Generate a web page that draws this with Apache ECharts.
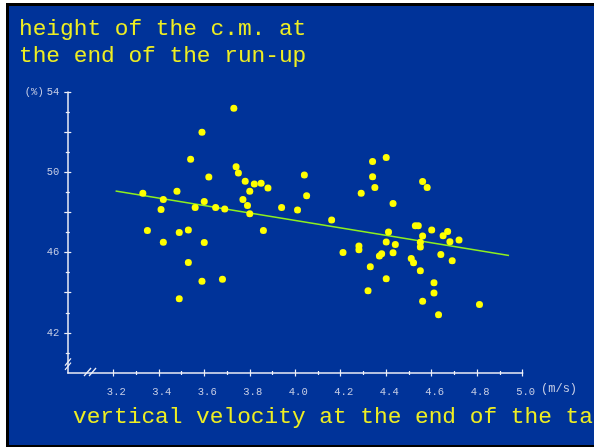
<!DOCTYPE html>
<html>
<head>
<meta charset="utf-8">
<script src="https://cdn.jsdelivr.net/npm/echarts@6/dist/echarts.min.js"></script>
<style>
  html, body { margin: 0; padding: 0; background: #ffffff; }
  #frame {
    position: absolute; left: 6px; top: 3px; width: 585px; height: 439px;
    background: #003399;
    border-left: 3px solid #000; border-top: 3px solid #000; border-bottom: 2px solid #000;
  }
  #chart { position: absolute; left: 0; top: 0; width: 594px; height: 447px; }
</style>
</head>
<body>
<div id="frame"></div>
<div id="chart"></div>
<script>
// vertical take-off velocity (m/s) for each jump
const velocity = [
  3.73, 3.59, 3.54, 3.74, 3.75, 3.62, 3.78, 3.82, 3.85, 3.88,
  3.80, 3.48, 3.33, 3.42, 3.77, 3.79, 3.60, 3.56, 3.65, 3.69,
  3.41, 3.94, 4.01, 3.80, 3.35, 3.49, 3.53, 3.42, 3.60, 3.86,
  3.53, 3.59, 3.68, 3.49, 4.04, 4.05, 4.16, 4.34, 4.40, 4.34,
  4.35, 4.29, 4.43, 4.56, 4.58, 4.528, 4.541, 4.60, 4.67, 4.65,
  4.41, 4.56, 4.40, 4.44, 4.55, 4.55, 4.68, 4.72, 4.28, 4.28,
  4.21, 4.38, 4.37, 4.43, 4.64, 4.69, 4.51, 4.52, 4.33, 4.55,
  4.40, 4.61, 4.32, 4.61, 4.56, 4.81, 4.63
];
// height of the centre of mass (% of body height) for each jump
const heightPct = [
  53.19, 51.99, 50.65, 50.27, 49.97, 49.77, 49.55, 49.42, 49.45, 49.22,
  49.05, 49.05, 48.95, 48.65, 48.65, 48.35, 48.55, 48.25, 48.25, 48.17,
  48.15, 48.25, 48.12, 47.94, 47.10, 47.00, 47.12, 46.52, 46.50, 47.10,
  45.50, 44.57, 44.67, 43.70, 49.87, 48.83, 47.62, 50.54, 50.74, 49.78,
  49.24, 48.95, 48.44, 49.54, 49.24, 47.34, 47.34, 47.13, 47.05, 46.84,
  47.02, 46.82, 46.53, 46.40, 46.52, 46.28, 46.54, 46.63, 46.33, 46.14,
  46.00, 45.94, 45.83, 45.99, 45.91, 45.59, 45.71, 45.49, 45.29, 45.09,
  44.69, 44.50, 44.10, 43.98, 43.58, 43.41, 42.90
];
// regression line end points
const fitVelocity = [3.21, 4.94];
const fitHeight = [49.07, 45.85];

// axis ticks and labels
const xMajorTicks = [3.2, 3.4, 3.6, 3.8, 4.0, 4.2, 4.4, 4.6, 4.8, 5.0];
const xMinorTicks = [3.3, 3.5, 3.7, 3.9, 4.1, 4.3, 4.5, 4.7, 4.9];
const yMajorTicks = [42, 44, 46, 48, 50, 52, 54];
const yMinorTicks = [41, 43, 45, 47, 49, 51, 53];
const yLabelValues = [42, 46, 50, 54];

const mono = 'Liberation Mono';
const axisWhite = '#eef0f8';
const labelGrey = '#c4cce4';
const titleYellow = '#eeee22';

function tickLayer(base, ticks, len, inside, extra) {
  return Object.assign({
    type: 'value',
    min: base.min, max: base.max,
    position: base.position,
    axisLine: { show: false },
    splitLine: { show: false },
    axisLabel: { show: false },
    axisTick: { show: true, inside: inside, length: len, customValues: ticks,
                lineStyle: { color: axisWhite, width: 1.2 } }
  }, extra || {});
}

const xBase = { min: 3.0, max: 5.0, position: 'bottom' };
const yBase = { min: 40, max: 54, position: 'left' };

const chart = echarts.init(document.getElementById('chart'), null, { renderer: 'canvas' });

chart.setOption({
  animation: false,
  backgroundColor: 'transparent',
  title: [
    {
      text: 'height of the c.m. at\nthe end of the run-up',
      left: 19, top: 15, padding: 0,
      textStyle: { fontFamily: mono, fontSize: 22.8, lineHeight: 27, fontWeight: 'normal', color: titleYellow }
    },
    {
      text: 'vertical velocity at the end of the take-off',
      left: 73, top: 403, padding: 0,
      textStyle: { fontFamily: mono, fontSize: 22.8, lineHeight: 27, fontWeight: 'normal', color: titleYellow }
    }
  ],
  grid: { left: 67.8, right: 71.3, top: 92, bottom: 74, containLabel: false },
  xAxis: [
    tickLayer(xBase, xMajorTicks, 3.5, false, {
      axisLine: { show: true, lineStyle: { color: axisWhite, width: 1.5 } },
      axisLabel: {
        show: true, customValues: xMajorTicks, margin: 14, padding: [0, 0, 0, 6],
        formatter: v => v.toFixed(1),
        fontFamily: mono, fontSize: 10.5, color: labelGrey
      },
      name: '(m/s)',
      nameLocation: 'end',
      nameGap: 17,
      nameTextStyle: { fontFamily: mono, fontSize: 12, color: labelGrey,
                       verticalAlign: 'top', padding: [10, 0, 0, 0] }
    }),
    tickLayer(xBase, xMajorTicks, 3.5, true),
    tickLayer(xBase, xMinorTicks, 2, false),
    tickLayer(xBase, xMinorTicks, 2, true)
  ],
  yAxis: [
    tickLayer(yBase, yMajorTicks, 3.5, false, {
      axisLine: { show: true, lineStyle: { color: axisWhite, width: 1.5 } },
      axisLabel: {
        show: true, customValues: yLabelValues, margin: 8.5,
        formatter: v => (v === 54 ? '{u|(%)}54' : String(v)),
        fontFamily: mono, fontSize: 10.5, color: labelGrey,
        rich: { u: { fontFamily: mono, fontSize: 10.5, color: labelGrey, padding: [0, 3, 0, 0] } }
      }
    }),
    tickLayer(yBase, yMajorTicks, 3.5, true),
    tickLayer(yBase, yMinorTicks, 2, false),
    tickLayer(yBase, yMinorTicks, 2, true)
  ],
  series: [
    {
      type: 'line',
      xAxisIndex: 0, yAxisIndex: 0,
      data: fitVelocity.map((v, i) => [v, fitHeight[i]]),
      symbol: 'none',
      silent: true,
      lineStyle: { color: '#8ef01e', width: 1.5 },
      z: 2
    },
    {
      type: 'scatter',
      xAxisIndex: 0, yAxisIndex: 0,
      data: velocity.map((v, i) => [v, heightPct[i]]),
      symbol: 'circle',
      symbolSize: 7,
      itemStyle: { color: '#ffff00', opacity: 1 },
      z: 3
    }
  ]
});

// "//" axis-break marks at the origin corner, anchored to axis values
const xb = chart.convertToPixel({ xAxisIndex: 0, yAxisIndex: 0 }, [3.1, 40]);
const yb = chart.convertToPixel({ xAxisIndex: 0, yAxisIndex: 0 }, [3.0, 40.5]);
const breakStyle = { stroke: axisWhite, lineWidth: 1.2 };
function slash(p, x1, y1, x2, y2) {
  return { type: 'line', shape: { x1: p[0] + x1, y1: p[1] + y1, x2: p[0] + x2, y2: p[1] + y2 },
           style: breakStyle, silent: true, z: 10 };
}
chart.setOption({
  graphic: [
    slash(xb, -6.5, 3, 0.5, -5),
    slash(xb, -1.5, 3, 5.5, -5),
    slash(yb, -2.8, 2.7, 3.2, -4.7),
    slash(yb, -2.8, 7, 3.2, -0.3)
  ]
});
</script>
</body>
</html>
